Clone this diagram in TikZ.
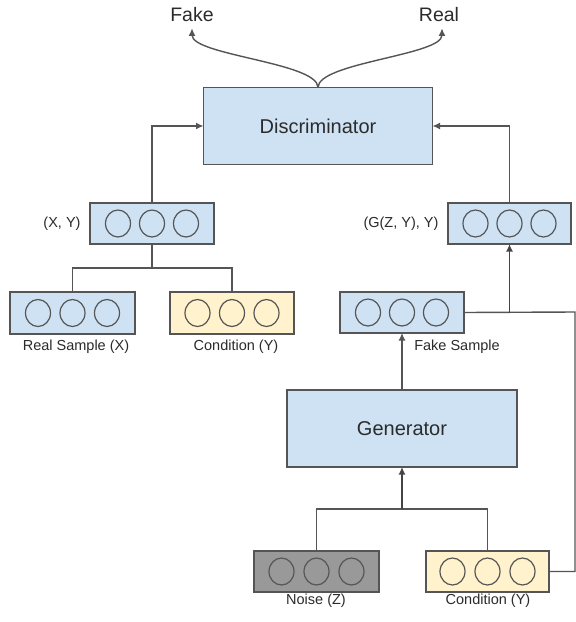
\documentclass[tikz,border=0pt]{standalone}
\usepackage{fontspec}
\setmainfont{Liberation Sans}
\usetikzlibrary{arrows.meta}
\definecolor{bluefill}{HTML}{CFE2F3}
\definecolor{yellowfill}{HTML}{FFF2CC}
\definecolor{grayfill}{HTML}{999999}
\definecolor{edgecol}{HTML}{555555}
\definecolor{txtcol}{HTML}{2B2B2B}
\newcommand\threecircles[2]{%
  \foreach \dx in {-#2,0,#2} \draw[circ] ([xshift=\dx pt]#1.center) ellipse[x radius=12.5pt,y radius=13.5pt];}
\begin{document}
\begin{tikzpicture}[x=1pt,y=-1pt,
  box/.style={draw=edgecol,line width=1.3pt,inner sep=0pt,outer sep=0pt},
  bigbox/.style={box,fill=bluefill,text=txtcol,font=\fontsize{20}{24}\selectfont},
  layer/.style={box,minimum height=41pt},
  circ/.style={draw=edgecol,line width=1.2pt},
  lbl/.style={text=txtcol,font=\fontsize{14.5}{17}\selectfont,inner sep=0pt},
  outlbl/.style={text=txtcol,font=\fontsize{19.5}{23}\selectfont,inner sep=0pt,outer sep=7pt},
  conn/.style={draw=edgecol,line width=1.4pt},
  thick conn/.style={draw=edgecol!80!black,line width=1.8pt},
  arr/.style={-{Latex[length=7.5pt,width=7pt]}}]
\useasboundingbox (0,0) rectangle (576,622);
\fill[white] (0,0) rectangle (576,622);
% main boxes
\node[bigbox,minimum width=229pt,minimum height=77pt] (disc) at (318,126) {Discriminator};
\node[bigbox,minimum width=230pt,minimum height=77pt] (gen) at (402,428.5) {Generator};
% layers
\node[layer,fill=bluefill,minimum width=124pt] (xy) at (152,223.5) {};
\node[layer,fill=bluefill,minimum width=123pt] (gzy) at (509.5,223.5) {};
\node[layer,fill=bluefill,minimum width=125pt,minimum height=42pt] (real) at (72.5,313) {};
\node[layer,fill=yellowfill,minimum width=124pt,minimum height=42pt] (cond1) at (232,313) {};
\node[layer,fill=bluefill,minimum width=124pt] (fake) at (402,312.5) {};
\node[layer,fill=grayfill,minimum width=125pt] (noise) at (316.5,571.5) {};
\node[layer,fill=yellowfill,minimum width=123pt] (cond2) at (487.5,571.5) {};
\threecircles{xy}{34}
\threecircles{gzy}{34}
\threecircles{real}{34.5}
\threecircles{cond1}{34.5}
\threecircles{fake}{34}
\threecircles{noise}{35}
\threecircles{cond2}{35}
% labels
\node[outlbl] (fakeout) at (192,14.2) {Fake};
\node[outlbl] (realout) at (439,14.2) {Real};
\node[lbl] (lxy) at (62,224) {(X, Y)};
\node[lbl] (lgzy) at (401,224) {(G(Z, Y), Y)};
\node[lbl] (lreal) at (76,347) {Real Sample (X)};
\node[lbl] (lcond1) at (236,347) {Condition (Y)};
\node[lbl] (lfake) at (457,347) {Fake Sample};
\node[lbl] (lnoise) at (316,601) {Noise (Z)};
\node[lbl] (lcond2) at (488,601) {Condition (Y)};
% coordinates
\coordinate (j1) at (152,268);
\coordinate (j2) at (402,509);
\coordinate (rc) at (575,312);
% output curves
\draw[conn,arr] (disc.north) .. controls +(0,-25) and +(0,27) .. ([xshift=0pt]fakeout.south);
\draw[conn,arr] (disc.north) .. controls +(0,-25) and +(0,27) .. ([xshift=3pt]realout.south);
% left branch
\draw[conn,arr] (xy.north) |- (disc.west);
\draw[conn] (xy.south) -- (j1) -| (real.north);
\draw[conn] (j1) -| (cond1.north);
% right branch
\draw[conn,arr] (gzy.north) |- (disc.east);
\draw[conn] (fake.east) -- (rc) |- (cond2.east);
\draw[thick conn,arr] (gzy.south |- fake.east) -- (gzy.south);
\draw[conn,arr] (gen.north) -- (fake.south);
% generator inputs
\draw[conn] (noise.north) |- (j2) -| (cond2.north);
\draw[thick conn,arr] (j2) -- (gen.south);
\end{tikzpicture}
\end{document}
